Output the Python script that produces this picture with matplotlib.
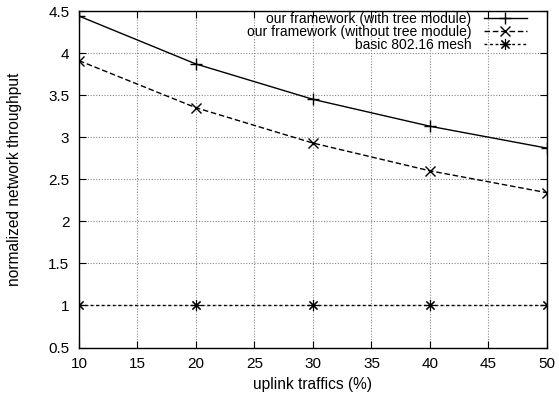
import numpy as np
import matplotlib
matplotlib.use('Agg')
import matplotlib.pyplot as plt

plt.rcParams['font.family'] = ['Liberation Sans', 'DejaVu Sans']

traffic = [10, 20, 30, 40, 50]
with_tree = [4.44, 3.87, 3.45, 3.13, 2.87]
without_tree = [3.91, 3.35, 2.93, 2.60, 2.34]
basic_mesh = [1, 1, 1, 1, 1]
labels = ['our framework (with tree module)', 'our framework (without tree module)', 'basic 802.16 mesh']

fig = plt.figure(figsize=(5.59, 4.03), dpi=100)
ax = fig.add_axes([0.1413, 0.1377, 0.8372, 0.835])

ax.plot(traffic, with_tree, color='k', lw=1, marker='+', ms=8, mew=1, label=labels[0])
ax.plot(traffic, without_tree, color='k', lw=1, dashes=(4, 2), marker='x', ms=7, mew=1, label=labels[1])
ax.plot(traffic, basic_mesh, color='k', lw=1, dashes=(2, 2), marker=(8, 2, 0), ms=8, mew=0.8, label=labels[2])

ax.set_xlim(10, 50)
ax.set_ylim(0.5, 4.5)
ax.set_xticks(np.arange(10, 51, 5))
ax.set_yticks(np.arange(0.5, 4.51, 0.5))
ax.set_yticklabels(['0.5', '1', '1.5', '2', '2.5', '3', '3.5', '4', '4.5'])
ax.tick_params(direction='in', top=True, right=True, length=5, width=0.8, labelsize=11, pad=7)
ax.grid(True, color='#888888', lw=0.8, ls=(0, (1, 1.5)))
for s in ax.spines.values():
    s.set_linewidth(1.0)

ax.set_xlabel('uplink traffics (%)', fontsize=11.2, labelpad=4)
ax.set_ylabel('normalized network throughput', fontsize=11.2, labelpad=19)

leg = ax.legend(loc='upper right', frameon=False, markerfirst=False, fontsize=10,
                handlelength=3.1, handletextpad=0.9, labelspacing=-0.08,
                borderaxespad=0, borderpad=0, bbox_to_anchor=(0.957, 0.997))

fig.savefig('out.png', dpi=100)
